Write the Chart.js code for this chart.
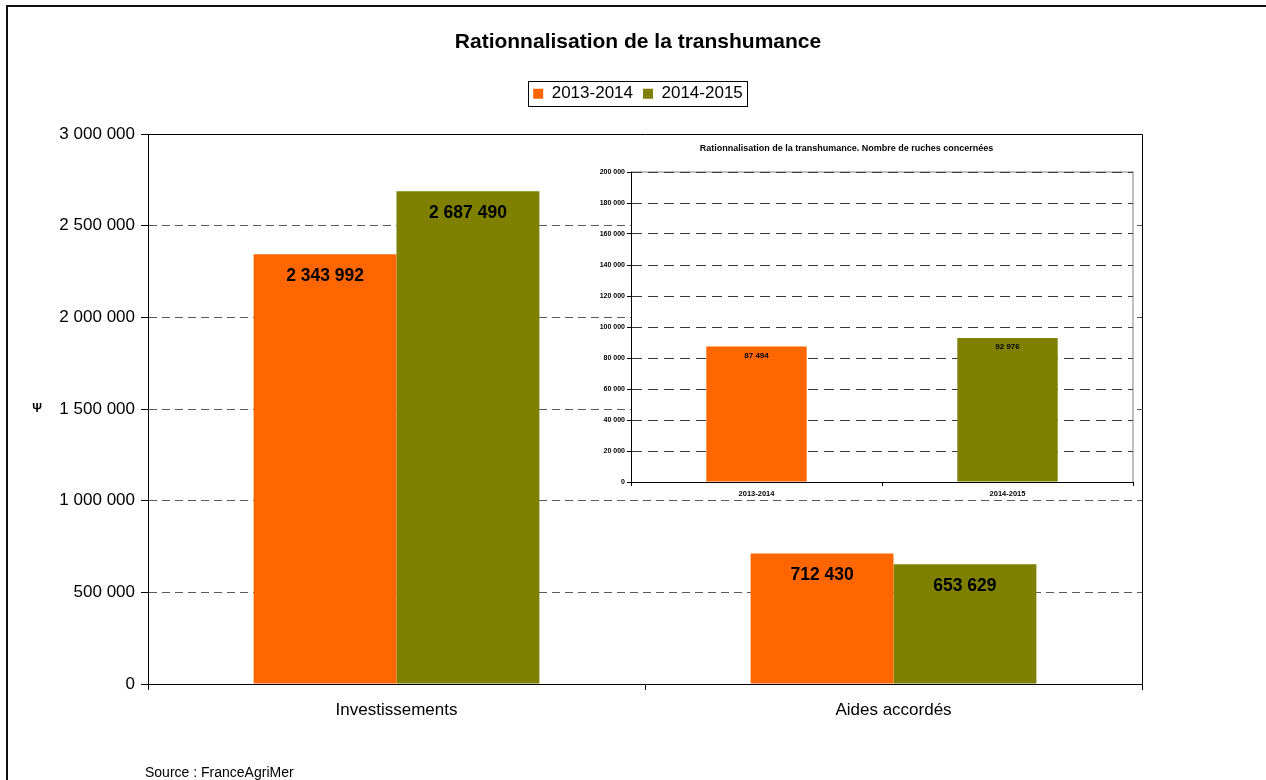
<!DOCTYPE html>
<html lang="fr">
<head>
<meta charset="utf-8">
<title>Rationnalisation de la transhumance</title>
<script src="https://cdn.jsdelivr.net/npm/chart.js@4.4.1/dist/chart.umd.min.js"></script>
<style>
  html, body { margin: 0; padding: 0; background: #fff; overflow: hidden; }
  #wrap { position: relative; width: 1266px; height: 780px; }
  #frame { position: absolute; left: 6px; top: 5px; width: 1300px; height: 800px; border-left: 2px solid #111; border-top: 2px solid #111; }
  #mainChart { position: absolute; left: 0; top: 0; }
  #insetChart { position: absolute; left: 560px; top: 134px; }
  #source { position: absolute; left: 145px; top: 764px; font: 14px "Liberation Sans", Arial, sans-serif; color: #000; }
</style>
</head>
<body>
<div id="wrap">
  <canvas id="mainChart" width="1266" height="780"></canvas>
  <div id="frame"></div>
  <canvas id="insetChart" width="580" height="380"></canvas>
  <div id="source">Source : FranceAgriMer</div>
</div>
<script>
// === DATA ===
const categories = ['Investissements', 'Aides accordés'];
const seasons = ['2013-2014', '2014-2015'];
const values1314 = [2343992, 712430];
const values1415 = [2687490, 653629];
const euroMax = 3000000;
const euroStep = 500000;

const hiveSeasons = ['2013-2014', '2014-2015'];
const hiveCounts = [87494, 92976];
const hiveMax = 200000;
const hiveStep = 20000;

const COLORS = { orange: '#FF6600', olive: '#808000' };
const FONT = '"Liberation Sans", Arial, Helvetica, sans-serif';
Chart.defaults.font.family = FONT;
Chart.defaults.color = '#000';

function formatNumber(v) {
    return String(Math.round(v)).replace(/\B(?=(\d{3})+(?!\d))/g, ' ');
}

// value printed inside the top of each bar
function valueLabels(offset, size) {
    return {
        id: 'valueLabels',
        afterDatasetsDraw(chart) {
            const ctx = chart.ctx;
            ctx.save();
            ctx.font = `bold ${size}px ${FONT}`;
            ctx.fillStyle = '#000';
            ctx.textAlign = 'center';
            ctx.textBaseline = 'middle';
            chart.data.datasets.forEach((ds, i) => {
                chart.getDatasetMeta(i).data.forEach((bar, j) => {
                    ctx.fillText(formatNumber(ds.data[j]), bar.x, bar.y + offset);
                });
            });
            ctx.restore();
        }
    };
}

// box around the legend + top/right plot border + axis symbol
const mainDecor = {
    id: 'mainDecor',
    afterLayout(chart) {
        // title and legend are centred over the whole figure, not the plot
        const shift = chart.chartArea.left - 14;
        [chart.titleBlock, chart.legend].forEach(b => { if (b) b.left += shift; });
    },
    afterDatasetsDraw(chart) {
        const { ctx, chartArea: a } = chart;
        ctx.save();
        ctx.strokeStyle = '#000';
        ctx.lineWidth = 1;
        ctx.beginPath();
        ctx.moveTo(Math.round(a.left) + 0.5, Math.round(a.top) + 0.5);
        ctx.lineTo(Math.round(a.right) + 0.5, Math.round(a.top) + 0.5);
        ctx.lineTo(Math.round(a.right) + 0.5, Math.round(a.bottom) + 0.5);
        ctx.stroke();
        ctx.restore();
    },
    afterDraw(chart) {
        const { ctx, chartArea: a } = chart;
        const boxes = chart.legend.legendHitBoxes || [];
        ctx.save();
        if (boxes.length) {
            const left = Math.min(...boxes.map(b => b.left)) - 5;
            const right = Math.max(...boxes.map(b => b.left + b.width)) + 4;
            const top = boxes[0].top - 4;
            const bottom = boxes[0].top + boxes[0].height + 4;
            ctx.strokeStyle = '#000';
            ctx.lineWidth = 1;
            ctx.strokeRect(Math.round(left) + 0.5, Math.round(top) + 0.5, Math.round(right - left), Math.round(bottom - top));
        }
        ctx.fillStyle = '#000';
        ctx.font = `bold 12px ${FONT}`;
        ctx.textAlign = 'center';
        ctx.textBaseline = 'middle';
        ctx.fillText('Ψ', a.left - 111, (a.top + a.bottom) / 2);
        ctx.restore();
    }
};

new Chart(document.getElementById('mainChart'), {
    type: 'bar',
    data: {
        labels: categories,
        datasets: [
            { label: seasons[0], data: values1314, backgroundColor: COLORS.orange, borderWidth: 0, categoryPercentage: 0.575, barPercentage: 1 },
            { label: seasons[1], data: values1415, backgroundColor: COLORS.olive, borderWidth: 0, categoryPercentage: 0.575, barPercentage: 1 }
        ]
    },
    options: {
        responsive: false, animation: false,
        layout: { padding: { left: 0, right: 124, top: 0, bottom: 0 } },
        plugins: {
            title: { display: true, text: 'Rationnalisation de la transhumance', color: '#000', font: { size: 21, weight: 'bold' }, padding: { top: 30, bottom: 20 } },
            legend: { display: true, position: 'top', labels: { color: '#000', font: { size: 17 }, boxWidth: 10, boxHeight: 10, padding: 10 } },
            subtitle: { display: true, text: '', weight: 500, font: { size: 10 }, padding: { top: 9.8, bottom: 0 } },
            tooltip: { enabled: false }
        },
        scales: {
            x: {
                grid: { offset: true, drawOnChartArea: false, tickLength: 6, tickColor: '#000' },
                border: { display: true, color: '#000', width: 1 },
                ticks: { color: '#000', font: { size: 17 }, padding: 10 },
                afterFit: s => { s.height = 96; }
            },
            y: {
                min: 0, max: euroMax,
                ticks: { stepSize: euroStep, color: '#000', font: { size: 17 }, padding: 6, callback: v => formatNumber(v) },
                grid: {
                    color: c => (c.index === 0 || (c.tick && c.tick.value === euroMax)) ? 'rgba(0,0,0,0)' : '#5a5a5a',
                    tickColor: '#000', tickLength: 7, lineWidth: 1
                },
                border: { display: true, color: '#000', width: 1, dash: [8, 5] },
                afterFit: s => { s.width = 148; }
            }
        }
    },
    plugins: [mainDecor, valueLabels(22, 17.5)]
});

// === INSET: number of hives ===
const insetBackground = {
    id: 'insetBackground',
    beforeDraw(chart) {
        const { ctx, chartArea: a } = chart;
        ctx.save();
        ctx.fillStyle = '#fff';
        ctx.fillRect(a.left, a.top, a.right - a.left, a.bottom - a.top);
        ctx.strokeStyle = '#c0c0c0';
        ctx.lineWidth = 2;
        ctx.beginPath();
        ctx.moveTo(a.left, a.top);
        ctx.lineTo(a.right, a.top);
        ctx.lineTo(a.right, a.bottom);
        ctx.stroke();
        ctx.restore();
    }
};

new Chart(document.getElementById('insetChart'), {
    type: 'bar',
    data: {
        labels: hiveSeasons,
        datasets: [{ data: hiveCounts, backgroundColor: [COLORS.orange, COLORS.olive], borderWidth: 0, barPercentage: 0.4, categoryPercentage: 1 }]
    },
    options: {
        responsive: false, animation: false,
        layout: { padding: { left: 0, right: 7, top: 0, bottom: 0 } },
        plugins: {
            legend: { display: false },
            tooltip: { enabled: false },
            title: { display: true, text: 'Rationnalisation de la transhumance. Nombre de ruches concernées', color: '#000', font: { size: 9, weight: 'bold' }, padding: { top: 9.6, bottom: 17.6 } }
        },
        scales: {
            x: {
                grid: { offset: true, drawOnChartArea: false, tickLength: 4, tickColor: '#000' },
                border: { display: true, color: '#000', width: 1 },
                ticks: { color: '#000', font: { size: 7.5, weight: 'bold' }, padding: 3 },
                afterFit: s => { s.height = 32; }
            },
            y: {
                min: 0, max: hiveMax,
                ticks: { stepSize: hiveStep, color: '#000', font: { size: 7, weight: 'bold' }, padding: 2, callback: v => formatNumber(v) },
                grid: { color: c => c.index === 0 ? 'rgba(0,0,0,0)' : '#3a3a3a', tickColor: '#000', tickLength: 4, lineWidth: 1 },
                border: { display: true, color: '#000', width: 1, dash: [10, 6] },
                afterFit: s => { s.width = 71; }
            }
        }
    },
    plugins: [insetBackground, valueLabels(9, 8)]
});
</script>
</body>
</html>
